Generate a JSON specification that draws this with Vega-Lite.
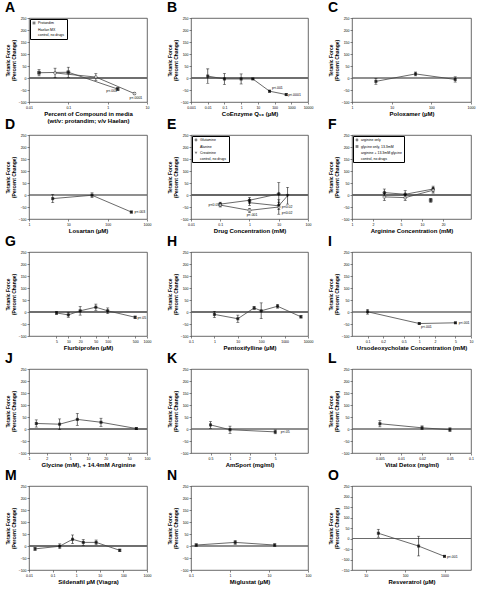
{
"$schema": "https://vega.github.io/schema/vega-lite/v6.json",
"background": "white",
"padding": {"left": 4, "top": 0, "right": 2, "bottom": 2},
"datasets": {
"pts": [
{"p":"A","s":"Protandim","x":0.018,"y":22,"e":13},
{"p":"A","s":"Protandim","x":0.1,"y":24,"e":21},
{"p":"A","s":"Protandim","x":1.8,"y":-46,"e":5},
{"p":"A","s":"Haelan MX","x":0.046,"y":21,"e":20},
{"p":"A","s":"Haelan MX","x":0.5,"y":4,"e":14},
{"p":"A","s":"Haelan MX","x":4.8,"y":-65,"e":4},
{"p":"B","s":"CoQ10","x":0.01,"y":8,"e":30},
{"p":"B","s":"CoQ10","x":0.1,"y":-4,"e":23},
{"p":"B","s":"CoQ10","x":1,"y":-4,"e":21},
{"p":"B","s":"CoQ10","x":5,"y":-4,"e":3},
{"p":"B","s":"CoQ10","x":50,"y":-55,"e":4},
{"p":"B","s":"CoQ10","x":500,"y":-69,"e":4},
{"p":"C","s":"Poloxamer","x":4,"y":-14,"e":12},
{"p":"C","s":"Poloxamer","x":40,"y":17,"e":8},
{"p":"C","s":"Poloxamer","x":400,"y":-6,"e":11},
{"p":"D","s":"Losartan","x":4,"y":-15,"e":17},
{"p":"D","s":"Losartan","x":40,"y":-1,"e":10},
{"p":"D","s":"Losartan","x":400,"y":-71,"e":4},
{"p":"E","s":"Glutamine","x":0.1,"y":-38,"e":8},
{"p":"E","s":"Glutamine","x":1,"y":-22,"e":12},
{"p":"E","s":"Glutamine","x":10,"y":5,"e":47},
{"p":"E","s":"Alanine","x":0.1,"y":-42,"e":8},
{"p":"E","s":"Alanine","x":1,"y":-64,"e":8},
{"p":"E","s":"Alanine","x":10,"y":-50,"e":30},
{"p":"E","s":"Creatinine","x":1,"y":-32,"e":12},
{"p":"E","s":"Creatinine","x":10,"y":-45,"e":15},
{"p":"E","s":"Creatinine","x":20,"y":-3,"e":35},
{"p":"F","s":"arginine only","x":2.9,"y":10,"e":15},
{"p":"F","s":"arginine only","x":5.75,"y":3,"e":15},
{"p":"F","s":"arginine only","x":14.4,"y":25,"e":12},
{"p":"F","s":"glycine only, 13.3mM","x":13.3,"y":-22,"e":8},
{"p":"F","s":"arginine + 13.3mM glycine","x":2.9,"y":-8,"e":15},
{"p":"F","s":"arginine + 13.3mM glycine","x":5.75,"y":-11,"e":12},
{"p":"F","s":"arginine + 13.3mM glycine","x":14.4,"y":20,"e":12},
{"p":"G","s":"Flurbiprofen","x":5,"y":-4,"e":6},
{"p":"G","s":"Flurbiprofen","x":10,"y":-12,"e":10},
{"p":"G","s":"Flurbiprofen","x":20,"y":5,"e":18},
{"p":"G","s":"Flurbiprofen","x":50,"y":20,"e":13},
{"p":"G","s":"Flurbiprofen","x":100,"y":5,"e":12},
{"p":"G","s":"Flurbiprofen","x":500,"y":-22,"e":5},
{"p":"H","s":"Pentoxifylline","x":1,"y":-10,"e":13},
{"p":"H","s":"Pentoxifylline","x":10,"y":-28,"e":15},
{"p":"H","s":"Pentoxifylline","x":50,"y":17,"e":6},
{"p":"H","s":"Pentoxifylline","x":100,"y":5,"e":33},
{"p":"H","s":"Pentoxifylline","x":500,"y":24,"e":8},
{"p":"H","s":"Pentoxifylline","x":5000,"y":-20,"e":5},
{"p":"I","s":"Ursodeoxycholate","x":0.1,"y":1,"e":10},
{"p":"I","s":"Ursodeoxycholate","x":1,"y":-48,"e":3},
{"p":"I","s":"Ursodeoxycholate","x":5,"y":-45,"e":3},
{"p":"J","s":"Glycine","x":1.33,"y":23,"e":15},
{"p":"J","s":"Glycine","x":3.3,"y":20,"e":22},
{"p":"J","s":"Glycine","x":6.6,"y":40,"e":25},
{"p":"J","s":"Glycine","x":16.6,"y":28,"e":17},
{"p":"J","s":"Glycine","x":66,"y":2,"e":3},
{"p":"K","s":"AmSport","x":0.5,"y":17,"e":14},
{"p":"K","s":"AmSport","x":1,"y":-3,"e":15},
{"p":"K","s":"AmSport","x":5,"y":-12,"e":8},
{"p":"L","s":"Vital Detox","x":0.005,"y":22,"e":13},
{"p":"L","s":"Vital Detox","x":0.02,"y":5,"e":8},
{"p":"L","s":"Vital Detox","x":0.05,"y":-3,"e":8},
{"p":"M","s":"Sildenafil","x":0.018,"y":-12,"e":6},
{"p":"M","s":"Sildenafil","x":0.2,"y":-1,"e":10},
{"p":"M","s":"Sildenafil","x":0.7,"y":28,"e":18},
{"p":"M","s":"Sildenafil","x":2,"y":15,"e":12},
{"p":"M","s":"Sildenafil","x":7,"y":15,"e":10},
{"p":"M","s":"Sildenafil","x":70,"y":-18,"e":5},
{"p":"N","s":"Miglustat","x":0.136,"y":4,"e":5},
{"p":"N","s":"Miglustat","x":1.36,"y":15,"e":8},
{"p":"N","s":"Miglustat","x":14,"y":4,"e":5},
{"p":"O","s":"Resveratrol","x":21,"y":25,"e":19},
{"p":"O","s":"Resveratrol","x":220,"y":-36,"e":47},
{"p":"O","s":"Resveratrol","x":1000,"y":-85,"e":3}
],
"ann": [
{"p":"A","x":0.92,"y":-53,"t":"p<.001"},
{"p":"A","x":3.6,"y":-82,"t":"p<.0001"},
{"p":"B","x":70,"y":-42,"t":"p<.001"},
{"p":"B","x":650,"y":-71,"t":"p<.0001"},
{"p":"D","x":480,"y":-71,"t":"p<.003"},
{"p":"E","x":0.04,"y":-40,"t":"p<0.05"},
{"p":"E","x":0.8,"y":-82,"t":"p<.001"},
{"p":"E","x":12.6,"y":-51,"t":"p<0.02"},
{"p":"E","x":12.6,"y":-74,"t":"p<0.02"},
{"p":"G","x":570,"y":-25,"t":"p<.05"},
{"p":"I","x":1.08,"y":-62,"t":"p<.001"},
{"p":"I","x":5.8,"y":-44,"t":"p<.001"},
{"p":"K","x":6.1,"y":-14,"t":"p<.05"},
{"p":"O","x":1150,"y":-88,"t":"p<.001"}
]
},
"columns": 3,
"bounds": "flush",
"align": "each",
"spacing": {"row": 33, "column": 44},
"resolve": {"scale": {"x": "independent", "y": "independent", "shape": "independent", "fill": "independent"}},
"concat": [
{
"title": "A", "width": 118, "height": 84,
"data": {"name": "pts"}, "transform": [{"filter": "datum.p == 'A'"}],
"encoding": {
"x": {"field": "x", "type": "quantitative", "scale": {"type": "log", "domain": [0.01, 10], "nice": false}, "axis": {"values": [0.01, 0.1, 1, 10], "format": "~g", "title": ["Percent of Compound in media", "(wt/v: protandim; v/v Haelan)"]}},
"y": {"field": "y", "type": "quantitative", "scale": {"domain": [-100, 250], "nice": false}, "axis": {"values": [-100, -50, 0, 50, 100, 150, 200, 250], "title": ["Tetanic Force", "(Percent Change)"]}}
},
"layer": [
{"mark": {"type": "rule", "color": "#666", "strokeWidth": 0.7}, "encoding": {"y": {"datum": 0}, "x": {"datum": 0.01}, "x2": {"datum": 10}}},
{"mark": {"type": "line", "color": "#444", "strokeWidth": 0.8}, "encoding": {"detail": {"field": "s"}}},
{"mark": {"type": "errorbar", "ticks": true, "size": 3, "thickness": 0.6, "color": "black"}, "encoding": {"yError": {"field": "e"}}},
{"mark": {"type": "point", "filled": true, "size": 9, "stroke": "black", "strokeWidth": 0.5}, "encoding": {
"shape": {"field": "s", "type": "nominal", "scale": {"domain": ["Protandim", "Haelan MX", "control, no drugs"], "range": ["square", "circle", "stroke"]}, "legend": {"title": null, "orient": "top-left", "offset": 1, "padding": 2, "strokeColor": "black", "labelFontSize": 3.5, "symbolSize": 8, "rowPadding": 0.5, "symbolStrokeColor": "black", "symbolStrokeWidth": 0.5, "labelOffset": 2}},
"fill": {"field": "s", "type": "nominal", "scale": {"domain": ["Protandim", "Haelan MX", "control, no drugs"], "range": ["black", "white", "black"]}, "legend": {"title": null, "orient": "top-left", "offset": 1, "padding": 2, "strokeColor": "black", "labelFontSize": 3.5, "symbolSize": 8, "rowPadding": 0.5, "symbolStrokeColor": "black", "symbolStrokeWidth": 0.5, "labelOffset": 2}}}},
{"data": {"name": "ann"}, "transform": [{"filter": "datum.p == 'A'"}], "mark": {"type": "text", "fontSize": 3.5, "align": "left", "baseline": "middle"}, "encoding": {"text": {"field": "t"}}}
]
},
{
"title": "B", "width": 117, "height": 84,
"data": {"name": "pts"}, "transform": [{"filter": "datum.p == 'B'"}],
"encoding": {
"x": {"field": "x", "type": "quantitative", "scale": {"type": "log", "domain": [0.001, 10000], "nice": false}, "axis": {"values": [0.001, 0.01, 0.1, 1, 10, 100, 1000, 10000], "format": "~g", "title": "CoEnzyme Q₁₀ (µM)"}},
"y": {"field": "y", "type": "quantitative", "scale": {"domain": [-100, 250], "nice": false}, "axis": {"values": [-100, -50, 0, 50, 100, 150, 200, 250], "title": ["Tetanic Force", "(Percent Change)"]}}
},
"layer": [
{"mark": {"type": "rule", "color": "#666", "strokeWidth": 0.7}, "encoding": {"y": {"datum": 0}, "x": {"datum": 0.001}, "x2": {"datum": 10000}}},
{"mark": {"type": "line", "color": "#444", "strokeWidth": 0.8}, "encoding": {"detail": {"field": "s"}}},
{"mark": {"type": "errorbar", "ticks": true, "size": 3, "thickness": 0.6, "color": "black"}, "encoding": {"yError": {"field": "e"}}},
{"mark": {"type": "point", "shape": "square", "filled": true, "size": 9, "color": "black"}},
{"data": {"name": "ann"}, "transform": [{"filter": "datum.p == 'B'"}], "mark": {"type": "text", "fontSize": 3.5, "align": "left", "baseline": "middle"}, "encoding": {"text": {"field": "t"}}}
]
},
{
"title": "C", "width": 119, "height": 84,
"data": {"name": "pts"}, "transform": [{"filter": "datum.p == 'C'"}],
"encoding": {
"x": {"field": "x", "type": "quantitative", "scale": {"type": "log", "domain": [1, 1000], "nice": false}, "axis": {"values": [1, 10, 100, 1000], "format": "~g", "title": "Poloxamer (µM)"}},
"y": {"field": "y", "type": "quantitative", "scale": {"domain": [-100, 250], "nice": false}, "axis": {"values": [-100, -50, 0, 50, 100, 150, 200, 250], "title": ["Tetanic Force", "(Percent Change)"]}}
},
"layer": [
{"mark": {"type": "rule", "color": "#666", "strokeWidth": 0.7}, "encoding": {"y": {"datum": 0}, "x": {"datum": 1}, "x2": {"datum": 1000}}},
{"mark": {"type": "line", "color": "#444", "strokeWidth": 0.8}, "encoding": {"detail": {"field": "s"}}},
{"mark": {"type": "errorbar", "ticks": true, "size": 3, "thickness": 0.6, "color": "black"}, "encoding": {"yError": {"field": "e"}}},
{"mark": {"type": "point", "shape": "square", "filled": true, "size": 9, "color": "black"}}
]
},
{
"title": "D", "width": 118, "height": 84,
"data": {"name": "pts"}, "transform": [{"filter": "datum.p == 'D'"}],
"encoding": {
"x": {"field": "x", "type": "quantitative", "scale": {"type": "log", "domain": [1, 1000], "nice": false}, "axis": {"values": [1, 10, 100, 1000], "format": "~g", "title": "Losartan (µM)"}},
"y": {"field": "y", "type": "quantitative", "scale": {"domain": [-100, 250], "nice": false}, "axis": {"values": [-100, -50, 0, 50, 100, 150, 200, 250], "title": ["Tetanic Force", "(Percent Change)"]}}
},
"layer": [
{"mark": {"type": "rule", "color": "#666", "strokeWidth": 0.7}, "encoding": {"y": {"datum": 0}, "x": {"datum": 1}, "x2": {"datum": 1000}}},
{"mark": {"type": "line", "color": "#444", "strokeWidth": 0.8}, "encoding": {"detail": {"field": "s"}}},
{"mark": {"type": "errorbar", "ticks": true, "size": 3, "thickness": 0.6, "color": "black"}, "encoding": {"yError": {"field": "e"}}},
{"mark": {"type": "point", "shape": "square", "filled": true, "size": 9, "color": "black"}},
{"data": {"name": "ann"}, "transform": [{"filter": "datum.p == 'D'"}], "mark": {"type": "text", "fontSize": 3.5, "align": "left", "baseline": "middle"}, "encoding": {"text": {"field": "t"}}}
]
},
{
"title": "E", "width": 117, "height": 84,
"data": {"name": "pts"}, "transform": [{"filter": "datum.p == 'E'"}],
"encoding": {
"x": {"field": "x", "type": "quantitative", "scale": {"type": "log", "domain": [0.01, 100], "nice": false}, "axis": {"values": [0.01, 0.1, 1, 10, 100], "format": "~g", "title": "Drug Concentration (mM)"}},
"y": {"field": "y", "type": "quantitative", "scale": {"domain": [-100, 250], "nice": false}, "axis": {"values": [-100, -50, 0, 50, 100, 150, 200, 250], "title": ["Tetanic Force", "(Percent Change)"]}}
},
"layer": [
{"mark": {"type": "rule", "color": "#666", "strokeWidth": 0.7}, "encoding": {"y": {"datum": 0}, "x": {"datum": 0.01}, "x2": {"datum": 100}}},
{"mark": {"type": "line", "color": "#444", "strokeWidth": 0.8}, "encoding": {"detail": {"field": "s"}}},
{"mark": {"type": "errorbar", "ticks": true, "size": 3, "thickness": 0.6, "color": "black"}, "encoding": {"yError": {"field": "e"}}},
{"mark": {"type": "point", "filled": true, "size": 9, "stroke": "black", "strokeWidth": 0.5}, "encoding": {
"shape": {"field": "s", "type": "nominal", "scale": {"domain": ["Glutamine", "Alanine", "Creatinine", "control, no drugs"], "range": ["circle", "circle", "triangle-down", "stroke"]}, "legend": {"title": null, "orient": "top-left", "offset": 1, "padding": 2, "strokeColor": "black", "labelFontSize": 3.5, "symbolSize": 8, "rowPadding": 0.5, "symbolStrokeColor": "black", "symbolStrokeWidth": 0.5, "labelOffset": 2}},
"fill": {"field": "s", "type": "nominal", "scale": {"domain": ["Glutamine", "Alanine", "Creatinine", "control, no drugs"], "range": ["black", "white", "black", "black"]}, "legend": {"title": null, "orient": "top-left", "offset": 1, "padding": 2, "strokeColor": "black", "labelFontSize": 3.5, "symbolSize": 8, "rowPadding": 0.5, "symbolStrokeColor": "black", "symbolStrokeWidth": 0.5, "labelOffset": 2}}}},
{"data": {"name": "ann"}, "transform": [{"filter": "datum.p == 'E'"}], "mark": {"type": "text", "fontSize": 3.5, "align": "left", "baseline": "middle"}, "encoding": {"text": {"field": "t"}}}
]
},
{
"title": "F", "width": 119, "height": 84,
"data": {"name": "pts"}, "transform": [{"filter": "datum.p == 'F'"}],
"encoding": {
"x": {"field": "x", "type": "quantitative", "scale": {"type": "log", "domain": [1, 50], "nice": false}, "axis": {"values": [1, 2, 5, 10, 20], "format": "~g", "title": "Arginine Concentration (mM)"}},
"y": {"field": "y", "type": "quantitative", "scale": {"domain": [-100, 250], "nice": false}, "axis": {"values": [-100, -50, 0, 50, 100, 150, 200, 250], "title": ["Tetanic Force", "(Percent Change)"]}}
},
"layer": [
{"mark": {"type": "rule", "color": "#666", "strokeWidth": 0.7}, "encoding": {"y": {"datum": 0}, "x": {"datum": 1}, "x2": {"datum": 50}}},
{"mark": {"type": "line", "color": "#444", "strokeWidth": 0.8}, "encoding": {"detail": {"field": "s"}}},
{"mark": {"type": "errorbar", "ticks": true, "size": 3, "thickness": 0.6, "color": "black"}, "encoding": {"yError": {"field": "e"}}},
{"mark": {"type": "point", "filled": true, "size": 9, "stroke": "black", "strokeWidth": 0.5}, "encoding": {
"shape": {"field": "s", "type": "nominal", "scale": {"domain": ["arginine only", "glycine only, 13.3mM", "arginine + 13.3mM glycine", "control, no drugs"], "range": ["circle", "square", "circle", "stroke"]}, "legend": {"title": null, "orient": "top-left", "offset": 1, "padding": 2, "strokeColor": "black", "labelFontSize": 3.5, "symbolSize": 8, "rowPadding": 0.5, "symbolStrokeColor": "black", "symbolStrokeWidth": 0.5, "labelOffset": 2}},
"fill": {"field": "s", "type": "nominal", "scale": {"domain": ["arginine only", "glycine only, 13.3mM", "arginine + 13.3mM glycine", "control, no drugs"], "range": ["black", "black", "white", "black"]}, "legend": {"title": null, "orient": "top-left", "offset": 1, "padding": 2, "strokeColor": "black", "labelFontSize": 3.5, "symbolSize": 8, "rowPadding": 0.5, "symbolStrokeColor": "black", "symbolStrokeWidth": 0.5, "labelOffset": 2}}}}
]
},
{
"title": "G", "width": 118, "height": 84,
"data": {"name": "pts"}, "transform": [{"filter": "datum.p == 'G'"}],
"encoding": {
"x": {"field": "x", "type": "quantitative", "scale": {"type": "log", "domain": [1, 1000], "nice": false}, "axis": {"values": [5, 10, 20, 50, 100, 500, 1000], "format": "~g", "title": "Flurbiprofen (µM)"}},
"y": {"field": "y", "type": "quantitative", "scale": {"domain": [-100, 250], "nice": false}, "axis": {"values": [-100, -50, 0, 50, 100, 150, 200, 250], "title": ["Tetanic Force", "(Percent Change)"]}}
},
"layer": [
{"mark": {"type": "rule", "color": "#666", "strokeWidth": 0.7}, "encoding": {"y": {"datum": 0}, "x": {"datum": 1}, "x2": {"datum": 1000}}},
{"mark": {"type": "line", "color": "#444", "strokeWidth": 0.8}, "encoding": {"detail": {"field": "s"}}},
{"mark": {"type": "errorbar", "ticks": true, "size": 3, "thickness": 0.6, "color": "black"}, "encoding": {"yError": {"field": "e"}}},
{"mark": {"type": "point", "shape": "square", "filled": true, "size": 9, "color": "black"}},
{"data": {"name": "ann"}, "transform": [{"filter": "datum.p == 'G'"}], "mark": {"type": "text", "fontSize": 3.5, "align": "left", "baseline": "middle"}, "encoding": {"text": {"field": "t"}}}
]
},
{
"title": "H", "width": 117, "height": 84,
"data": {"name": "pts"}, "transform": [{"filter": "datum.p == 'H'"}],
"encoding": {
"x": {"field": "x", "type": "quantitative", "scale": {"type": "log", "domain": [0.1, 10000], "nice": false}, "axis": {"values": [0.1, 1, 10, 100, 1000, 10000], "format": "~g", "title": "Pentoxifylline (µM)"}},
"y": {"field": "y", "type": "quantitative", "scale": {"domain": [-100, 250], "nice": false}, "axis": {"values": [-100, -50, 0, 50, 100, 150, 200, 250], "title": ["Tetanic Force", "(Percent Change)"]}}
},
"layer": [
{"mark": {"type": "rule", "color": "#666", "strokeWidth": 0.7}, "encoding": {"y": {"datum": 0}, "x": {"datum": 0.1}, "x2": {"datum": 10000}}},
{"mark": {"type": "line", "color": "#444", "strokeWidth": 0.8}, "encoding": {"detail": {"field": "s"}}},
{"mark": {"type": "errorbar", "ticks": true, "size": 3, "thickness": 0.6, "color": "black"}, "encoding": {"yError": {"field": "e"}}},
{"mark": {"type": "point", "shape": "square", "filled": true, "size": 9, "color": "black"}}
]
},
{
"title": "I", "width": 119, "height": 84,
"data": {"name": "pts"}, "transform": [{"filter": "datum.p == 'I'"}],
"encoding": {
"x": {"field": "x", "type": "quantitative", "scale": {"type": "log", "domain": [0.05, 10], "nice": false}, "axis": {"values": [0.1, 0.2, 0.5, 1, 2, 5, 10], "format": "~g", "title": "Ursodeoxycholate Concentration (mM)"}},
"y": {"field": "y", "type": "quantitative", "scale": {"domain": [-100, 250], "nice": false}, "axis": {"values": [-100, -50, 0, 50, 100, 150, 200, 250], "title": ["Tetanic Force", "(Percent Change)"]}}
},
"layer": [
{"mark": {"type": "rule", "color": "#666", "strokeWidth": 0.7}, "encoding": {"y": {"datum": 0}, "x": {"datum": 0.05}, "x2": {"datum": 10}}},
{"mark": {"type": "line", "color": "#444", "strokeWidth": 0.8}, "encoding": {"detail": {"field": "s"}}},
{"mark": {"type": "errorbar", "ticks": true, "size": 3, "thickness": 0.6, "color": "black"}, "encoding": {"yError": {"field": "e"}}},
{"mark": {"type": "point", "shape": "square", "filled": true, "size": 9, "color": "black"}},
{"data": {"name": "ann"}, "transform": [{"filter": "datum.p == 'I'"}], "mark": {"type": "text", "fontSize": 3.5, "align": "left", "baseline": "middle"}, "encoding": {"text": {"field": "t"}}}
]
},
{
"title": "J", "width": 118, "height": 84,
"data": {"name": "pts"}, "transform": [{"filter": "datum.p == 'J'"}],
"encoding": {
"x": {"field": "x", "type": "quantitative", "scale": {"type": "log", "domain": [1, 100], "nice": false}, "axis": {"values": [1, 2, 5, 10, 20, 50, 100], "format": "~g", "title": "Glycine (mM), + 14.4mM Arginine"}},
"y": {"field": "y", "type": "quantitative", "scale": {"domain": [-100, 250], "nice": false}, "axis": {"values": [-100, -50, 0, 50, 100, 150, 200, 250], "title": ["Tetanic Force", "(Percent Change)"]}}
},
"layer": [
{"mark": {"type": "rule", "color": "#666", "strokeWidth": 0.7}, "encoding": {"y": {"datum": 0}, "x": {"datum": 1}, "x2": {"datum": 100}}},
{"mark": {"type": "line", "color": "#444", "strokeWidth": 0.8}, "encoding": {"detail": {"field": "s"}}},
{"mark": {"type": "errorbar", "ticks": true, "size": 3, "thickness": 0.6, "color": "black"}, "encoding": {"yError": {"field": "e"}}},
{"mark": {"type": "point", "shape": "square", "filled": true, "size": 9, "color": "black"}}
]
},
{
"title": "K", "width": 117, "height": 84,
"data": {"name": "pts"}, "transform": [{"filter": "datum.p == 'K'"}],
"encoding": {
"x": {"field": "x", "type": "quantitative", "scale": {"type": "log", "domain": [0.25, 16], "nice": false}, "axis": {"values": [0.5, 1, 2, 5], "format": "~g", "title": "AmSport  (mg/ml)"}},
"y": {"field": "y", "type": "quantitative", "scale": {"domain": [-100, 250], "nice": false}, "axis": {"values": [-100, -50, 0, 50, 100, 150, 200, 250], "title": ["Tetanic Force", "(Percent Change)"]}}
},
"layer": [
{"mark": {"type": "rule", "color": "#666", "strokeWidth": 0.7}, "encoding": {"y": {"datum": 0}, "x": {"datum": 0.25}, "x2": {"datum": 16}}},
{"mark": {"type": "line", "color": "#444", "strokeWidth": 0.8}, "encoding": {"detail": {"field": "s"}}},
{"mark": {"type": "errorbar", "ticks": true, "size": 3, "thickness": 0.6, "color": "black"}, "encoding": {"yError": {"field": "e"}}},
{"mark": {"type": "point", "shape": "square", "filled": true, "size": 9, "color": "black"}},
{"data": {"name": "ann"}, "transform": [{"filter": "datum.p == 'K'"}], "mark": {"type": "text", "fontSize": 3.5, "align": "left", "baseline": "middle"}, "encoding": {"text": {"field": "t"}}}
]
},
{
"title": "L", "width": 119, "height": 84,
"data": {"name": "pts"}, "transform": [{"filter": "datum.p == 'L'"}],
"encoding": {
"x": {"field": "x", "type": "quantitative", "scale": {"type": "log", "domain": [0.002, 0.1], "nice": false}, "axis": {"values": [0.005, 0.01, 0.02, 0.05, 0.1], "format": "~g", "title": "Vital Detox (mg/ml)"}},
"y": {"field": "y", "type": "quantitative", "scale": {"domain": [-100, 250], "nice": false}, "axis": {"values": [-100, -50, 0, 50, 100, 150, 200, 250], "title": ["Tetanic Force", "(Percent Change)"]}}
},
"layer": [
{"mark": {"type": "rule", "color": "#666", "strokeWidth": 0.7}, "encoding": {"y": {"datum": 0}, "x": {"datum": 0.002}, "x2": {"datum": 0.1}}},
{"mark": {"type": "line", "color": "#444", "strokeWidth": 0.8}, "encoding": {"detail": {"field": "s"}}},
{"mark": {"type": "errorbar", "ticks": true, "size": 3, "thickness": 0.6, "color": "black"}, "encoding": {"yError": {"field": "e"}}},
{"mark": {"type": "point", "shape": "square", "filled": true, "size": 9, "color": "black"}}
]
},
{
"title": "M", "width": 118, "height": 84,
"data": {"name": "pts"}, "transform": [{"filter": "datum.p == 'M'"}],
"encoding": {
"x": {"field": "x", "type": "quantitative", "scale": {"type": "log", "domain": [0.01, 1000], "nice": false}, "axis": {"values": [0.01, 0.1, 1, 10, 100, 1000], "format": "~g", "title": "Sildenafil µM (Viagra)"}},
"y": {"field": "y", "type": "quantitative", "scale": {"domain": [-100, 250], "nice": false}, "axis": {"values": [-100, -50, 0, 50, 100, 150, 200, 250], "title": ["Tetanic Force", "(Percent Change)"]}}
},
"layer": [
{"mark": {"type": "rule", "color": "#666", "strokeWidth": 0.7}, "encoding": {"y": {"datum": 0}, "x": {"datum": 0.01}, "x2": {"datum": 1000}}},
{"mark": {"type": "line", "color": "#444", "strokeWidth": 0.8}, "encoding": {"detail": {"field": "s"}}},
{"mark": {"type": "errorbar", "ticks": true, "size": 3, "thickness": 0.6, "color": "black"}, "encoding": {"yError": {"field": "e"}}},
{"mark": {"type": "point", "shape": "square", "filled": true, "size": 9, "color": "black"}}
]
},
{
"title": "N", "width": 117, "height": 84,
"data": {"name": "pts"}, "transform": [{"filter": "datum.p == 'N'"}],
"encoding": {
"x": {"field": "x", "type": "quantitative", "scale": {"type": "log", "domain": [0.1, 100], "nice": false}, "axis": {"values": [0.1, 1, 10, 100], "format": "~g", "title": "Miglustat (µM)"}},
"y": {"field": "y", "type": "quantitative", "scale": {"domain": [-100, 250], "nice": false}, "axis": {"values": [-100, -50, 0, 50, 100, 150, 200, 250], "title": ["Tetanic Force", "(Percent Change)"]}}
},
"layer": [
{"mark": {"type": "rule", "color": "#666", "strokeWidth": 0.7}, "encoding": {"y": {"datum": 0}, "x": {"datum": 0.1}, "x2": {"datum": 100}}},
{"mark": {"type": "line", "color": "#444", "strokeWidth": 0.8}, "encoding": {"detail": {"field": "s"}}},
{"mark": {"type": "errorbar", "ticks": true, "size": 3, "thickness": 0.6, "color": "black"}, "encoding": {"yError": {"field": "e"}}},
{"mark": {"type": "point", "shape": "square", "filled": true, "size": 9, "color": "black"}}
]
},
{
"title": "O", "width": 119, "height": 84,
"data": {"name": "pts"}, "transform": [{"filter": "datum.p == 'O'"}],
"encoding": {
"x": {"field": "x", "type": "quantitative", "scale": {"type": "log", "domain": [4.5, 4700], "nice": false}, "axis": {"values": [10, 100, 1000], "format": "~g", "title": "Resveratrol (µM)"}},
"y": {"field": "y", "type": "quantitative", "scale": {"domain": [-150, 250], "nice": false}, "axis": {"values": [-150, -100, -50, 0, 50, 100, 150, 200, 250], "title": ["Tetanic Force", "(Percent Change)"]}}
},
"layer": [
{"mark": {"type": "rule", "color": "#666", "strokeWidth": 0.7}, "encoding": {"y": {"datum": 0}, "x": {"datum": 4.5}, "x2": {"datum": 4700}}},
{"mark": {"type": "line", "color": "#444", "strokeWidth": 0.8}, "encoding": {"detail": {"field": "s"}}},
{"mark": {"type": "errorbar", "ticks": true, "size": 3, "thickness": 0.6, "color": "black"}, "encoding": {"yError": {"field": "e"}}},
{"mark": {"type": "point", "shape": "square", "filled": true, "size": 9, "color": "black"}},
{"data": {"name": "ann"}, "transform": [{"filter": "datum.p == 'O'"}], "mark": {"type": "text", "fontSize": 3.5, "align": "left", "baseline": "middle"}, "encoding": {"text": {"field": "t"}}}
]
}
],
"config": {
"font": "Liberation Sans",
"view": {"stroke": "#444", "strokeWidth": 0.8},
"title": {"fontSize": 14, "fontWeight": "bold", "anchor": "start", "frame": "bounds", "offset": 1, "color": "black"},
"axis": {"grid": false, "domain": false, "tickSize": 2, "tickWidth": 0.6, "tickColor": "#333", "labelFontSize": 3.5, "labelPadding": 1, "labelColor": "black", "titleFontWeight": "bold", "titleColor": "black", "labelFlush": false, "labelOverlap": false, "labelBound": false},
"axisX": {"titleFontSize": 6, "titlePadding": 2, "titleLineHeight": 7},
"axisY": {"titleFontSize": 5, "titleLineHeight": 6, "titlePadding": 2}
}
}
